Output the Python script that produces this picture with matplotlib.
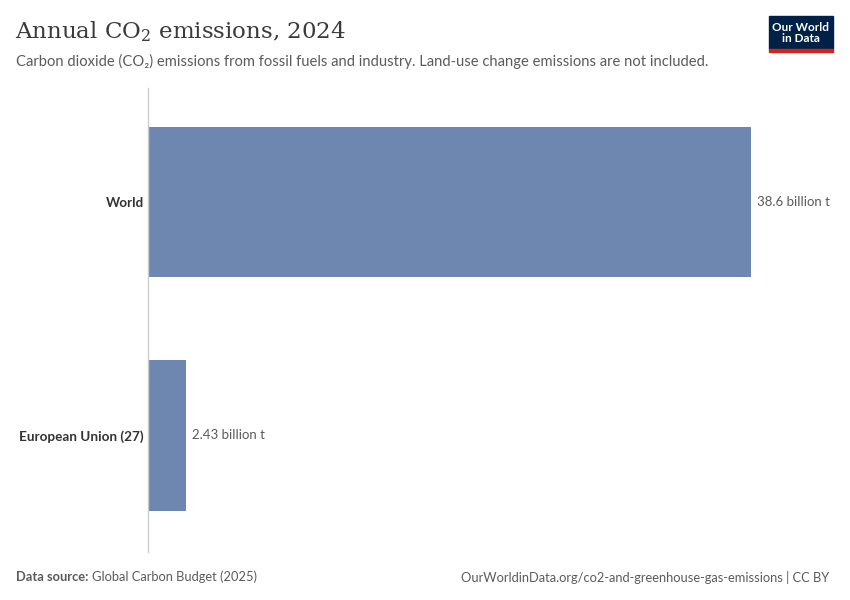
import matplotlib
matplotlib.use("Agg")
import matplotlib.pyplot as plt
from matplotlib.patches import Rectangle

# data
entities = ["World", "European Union (27)"]
emissions = [38.6, 2.43]
value_labels = ["38.6 billion t", "2.43 billion t"]

bar_color = "#6D87B0"
dark = "#333333"
grey = "#5b5b5b"
sans = ["Lato", "DejaVu Sans"]
plt.rcParams["mathtext.fontset"] = "dejavuserif"

fig = plt.figure(figsize=(8.5, 6), dpi=100)

# axes placed to match reference pixel layout
ax = fig.add_axes([148 / 850, 48 / 600, (830 - 148) / 850, 464 / 600])
px_per_unit = (751 - 148) / 38.6
ax.set_xlim(0, (830 - 148) / px_per_unit)
ax.set_ylim(1.499, -0.488)

ypos = list(range(len(entities)))
ax.barh(ypos, emissions, height=0.643, color=bar_color, zorder=2)

for y, v, lab in zip(ypos, emissions, value_labels):
    ax.annotate(lab, (v, y), xytext=(4, 0), textcoords="offset points",
                va="center", ha="left", fontsize=9.5, color=grey, family=sans)

ax.set_yticks(ypos)
ax.set_yticklabels(entities, fontsize=9.7, fontweight="bold", color=dark, family=sans)
ax.tick_params(axis="y", length=0, pad=3)
ax.set_xticks([])
for s in ["top", "right", "bottom"]:
    ax.spines[s].set_visible(False)
ax.spines["left"].set_color("#cccccc")
ax.spines["left"].set_linewidth(1)

# title & subtitle
fig.text(15 / 850, 1 - 32 / 600, r"Annual CO$_2$ emissions, 2024", fontsize=16.5,
         family=["DejaVu Serif"], color="#3a3a3a", va="center")
fig.text(16 / 850, 1 - 61 / 600,
         "Carbon dioxide (CO₂) emissions from fossil fuels and industry. Land-use change emissions are not included.",
         fontsize=10.65, family=sans, color=grey, va="center")

# footer
fig.text(16 / 850, 1 - 577 / 600, "Data source:", fontsize=9.3, fontweight="bold",
         family=sans, color=grey, va="center")
fig.text(92 / 850, 1 - 577 / 600, "Global Carbon Budget (2025)", fontsize=9.3,
         family=sans, color=grey, va="center")
fig.text(829 / 850, 1 - 577 / 600,
         "OurWorldinData.org/co2-and-greenhouse-gas-emissions | CC BY",
         fontsize=9.3, family=sans, color=grey, va="center", ha="right")

# logo
fig.patches.append(Rectangle((769 / 850, 1 - 49 / 600), 64 / 850, 33 / 600,
                             transform=fig.transFigure, color="#002147", zorder=5))
fig.patches.append(Rectangle((769 / 850, 1 - 52 / 600), 64 / 850, 3 / 600,
                             transform=fig.transFigure, color="#CE261E", zorder=5))
fig.text(801 / 850, 1 - 33 / 600, "Our World\nin Data", fontsize=8.5, fontweight="bold",
         family=sans, color="white", ha="center", va="center", linespacing=1.0, zorder=6)

fig.savefig("out.png", dpi=100)
